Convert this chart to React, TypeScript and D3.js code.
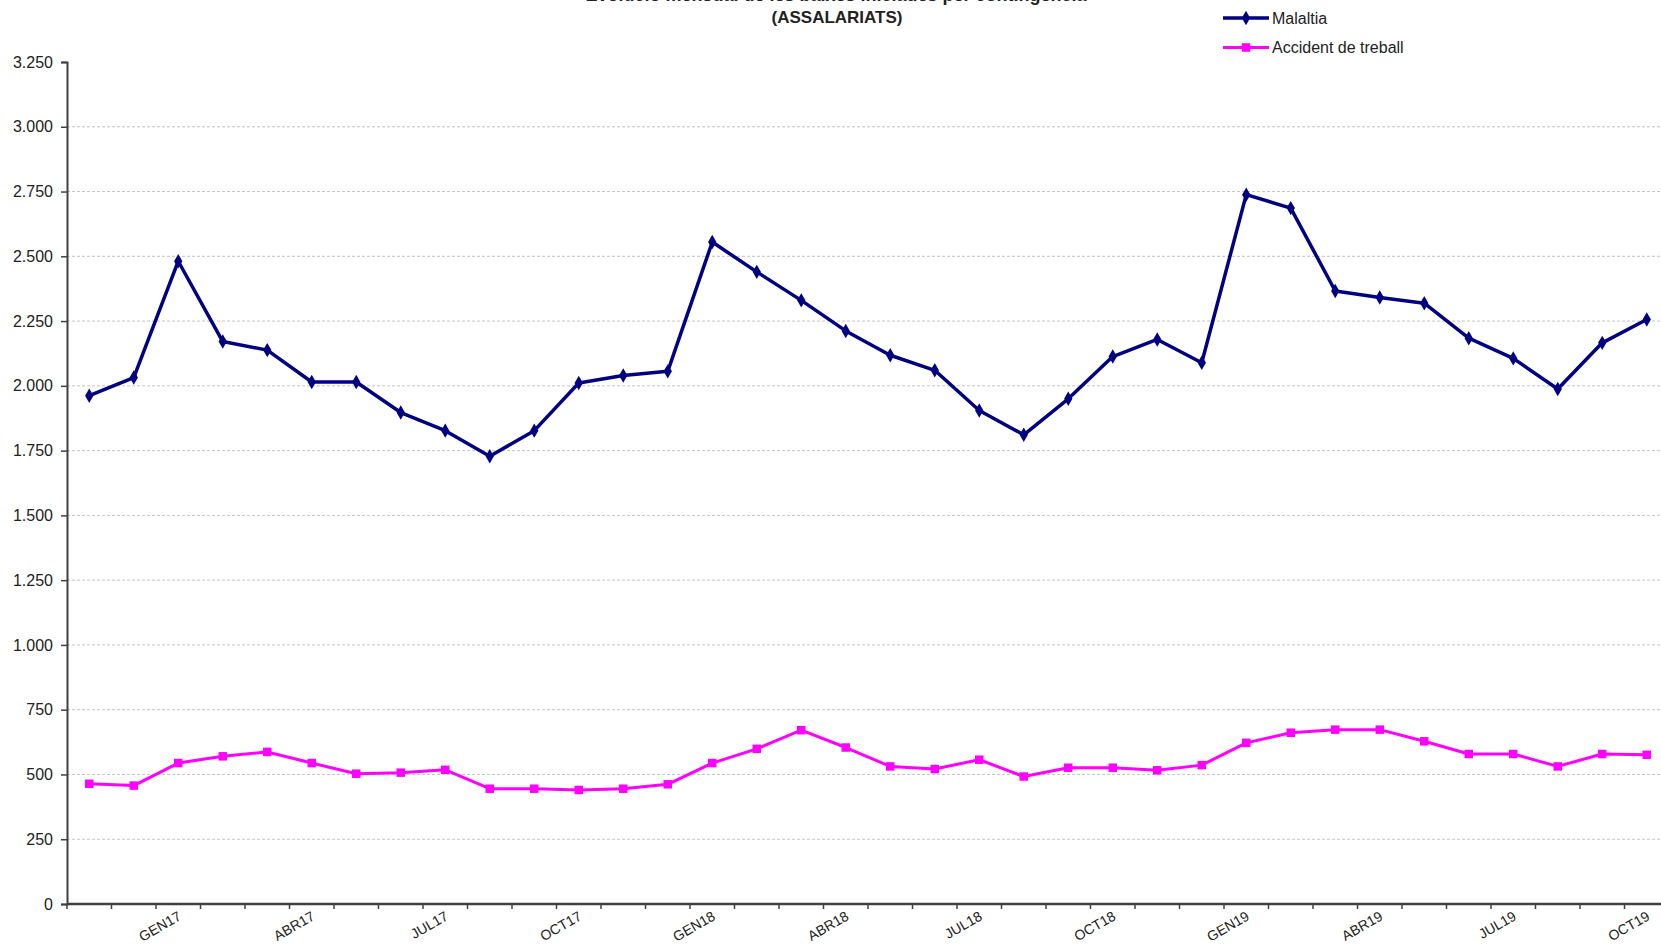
import React, { useEffect, useRef } from "react";
import * as d3 from "d3";

// Nov 2016 .. Oct 2019, one value per month
const months = [
  "NOV16", "DES16", "GEN17", "FEB17", "MAR17", "ABR17", "MAI17", "JUN17", "JUL17", "AGO17", "SET17", "OCT17",
  "NOV17", "DES17", "GEN18", "FEB18", "MAR18", "ABR18", "MAI18", "JUN18", "JUL18", "AGO18", "SET18", "OCT18",
  "NOV18", "DES18", "GEN19", "FEB19", "MAR19", "ABR19", "MAI19", "JUN19", "JUL19", "AGO19", "SET19", "OCT19",
];

const malaltia = [
  1962, 2032, 2481, 2171, 2138, 2015, 2015, 1897, 1827, 1728, 1827, 2011,
  2040, 2056, 2555, 2440, 2330, 2212, 2118, 2060, 1905, 1811, 1950, 2113,
  2179, 2089, 2738, 2686, 2366, 2341, 2319, 2184, 2106, 1988, 2166, 2256,
];

const accident = [
  464, 457, 544, 570, 587, 544, 503, 507, 518, 445, 445, 440,
  445, 462, 544, 599, 671, 604, 531, 521, 557, 492, 526, 526,
  516, 536, 622, 661, 673, 673, 628, 579, 579, 531, 579, 576,
];

const labelMonths = ["GEN17", "ABR17", "JUL17", "OCT17", "GEN18", "ABR18", "JUL18", "OCT18", "GEN19", "ABR19", "JUL19", "OCT19"];
const yTicks = [0, 250, 500, 750, 1000, 1250, 1500, 1750, 2000, 2250, 2500, 2750, 3000, 3250];

const seriesNames = ["Malaltia", "Accident de treball"];
const colors = ["#000080", "#ff00ff"];

function App() {
  const ref = useRef<SVGSVGElement | null>(null);

  useEffect(() => {
    const svg = d3.select(ref.current);
    svg.selectAll("*").remove();

    const W = 1661;
    const left = 67;
    const bottom = 904;
    const top = 62;
    const step = 44.5;
    const font = "Liberation Sans, Arial, sans-serif";

    const x = d3
      .scaleBand<string>()
      .domain(months)
      .range([left, left + step * months.length]);
    const cx = (m: string) => (x(m) as number) + x.bandwidth() / 2;

    const y = d3.scaleLinear().domain([0, 3250]).range([bottom, top]);

    const fmt = d3.formatLocale({ decimal: ",", thousands: ".", grouping: [3], currency: ["", "€"] }).format(",d");

    // gridlines
    svg
      .append("g")
      .selectAll("line")
      .data(yTicks.filter((t) => t > 0 && t < 3250))
      .enter()
      .append("line")
      .attr("x1", left)
      .attr("x2", W)
      .attr("y1", (d) => y(d))
      .attr("y2", (d) => y(d))
      .attr("stroke", "#c4c4c4")
      .attr("stroke-width", 1)
      .attr("stroke-dasharray", "3,2");

    // y axis
    const yAxis = svg
      .append("g")
      .attr("transform", `translate(${left},0)`)
      .call(d3.axisLeft(y).tickValues(yTicks).tickSize(6).tickPadding(8).tickFormat((d) => fmt(d as number)));
    yAxis.select(".domain").attr("stroke", "#404040").attr("stroke-width", 2);
    yAxis.selectAll(".tick line").attr("stroke", "#404040").attr("stroke-width", 1.5);
    yAxis
      .selectAll(".tick text")
      .attr("font-family", font)
      .attr("font-size", 16)
      .attr("fill", "#222");

    // x axis: ticks on category boundaries
    const bounds = d3.range(months.length + 1).map((i) => left + i * step);
    const xg = svg.append("g");
    xg.append("line")
      .attr("x1", left)
      .attr("x2", W)
      .attr("y1", bottom)
      .attr("y2", bottom)
      .attr("stroke", "#404040")
      .attr("stroke-width", 2.5);
    xg.selectAll(".xt")
      .data(bounds)
      .enter()
      .append("line")
      .attr("x1", (d) => d)
      .attr("x2", (d) => d)
      .attr("y1", bottom)
      .attr("y2", bottom + 5)
      .attr("stroke", "#404040")
      .attr("stroke-width", 1.5);
    xg.selectAll(".xl")
      .data(labelMonths)
      .enter()
      .append("text")
      .attr("transform", (d) => `translate(${cx(d) + 4},${bottom + 15}) rotate(-30)`)
      .attr("text-anchor", "end")
      .attr("font-family", font)
      .attr("font-size", 14)
      .attr("fill", "#222")
      .text((d) => d);

    // lines
    const series = [malaltia, accident];
    series.forEach((vals, si) => {
      const pts = months.map((m, i) => [cx(m), y(vals[i])] as [number, number]);
      svg
        .append("path")
        .attr("d", d3.line()(pts) as string)
        .attr("fill", "none")
        .attr("stroke", colors[si])
        .attr("stroke-width", si === 0 ? 3.5 : 3)
        .attr("stroke-linejoin", "round");
      const sym = si === 0 ? d3.symbol(d3.symbolDiamond, 60) : d3.symbol(d3.symbolSquare, 72);
      svg
        .append("g")
        .selectAll("path")
        .data(pts)
        .enter()
        .append("path")
        .attr("transform", (d) => `translate(${d[0]},${d[1]})`)
        .attr("d", sym() as string)
        .attr("fill", colors[si]);
    });

    // title (first line is cut off at the top of the picture)
    svg
      .append("text")
      .attr("x", 836)
      .attr("y", 1)
      .attr("text-anchor", "middle")
      .attr("font-family", font)
      .attr("font-weight", "bold")
      .attr("font-size", 18)
      .attr("fill", "#222")
      .text("Evolució mensual de les baixes iniciades per contingència");
    svg
      .append("text")
      .attr("x", 837)
      .attr("y", 23)
      .attr("text-anchor", "middle")
      .attr("font-family", font)
      .attr("font-weight", "bold")
      .attr("font-size", 17)
      .attr("fill", "#222")
      .text("(ASSALARIATS)");

    // legend
    const lg = svg.append("g");
    seriesNames.forEach((name, i) => {
      const ly = 18 + i * 29.5;
      lg.append("line")
        .attr("x1", 1223)
        .attr("x2", 1269)
        .attr("y1", ly)
        .attr("y2", ly)
        .attr("stroke", colors[i])
        .attr("stroke-width", i === 0 ? 3.5 : 3);
      const sym = i === 0 ? d3.symbol(d3.symbolDiamond, 60) : d3.symbol(d3.symbolSquare, 72);
      lg.append("path")
        .attr("transform", `translate(1246,${ly})`)
        .attr("d", sym() as string)
        .attr("fill", colors[i]);
      lg.append("text")
        .attr("x", 1272)
        .attr("y", ly + 5.5)
        .attr("font-family", font)
        .attr("font-size", 16)
        .attr("fill", "#222")
        .text(name);
    });
  }, []);

  return (
    <svg
      ref={ref}
      width={1661}
      height={944}
      style={{ position: "absolute", left: 0, top: 0, background: "#fff" }}
    />
  );
}

export default App;
